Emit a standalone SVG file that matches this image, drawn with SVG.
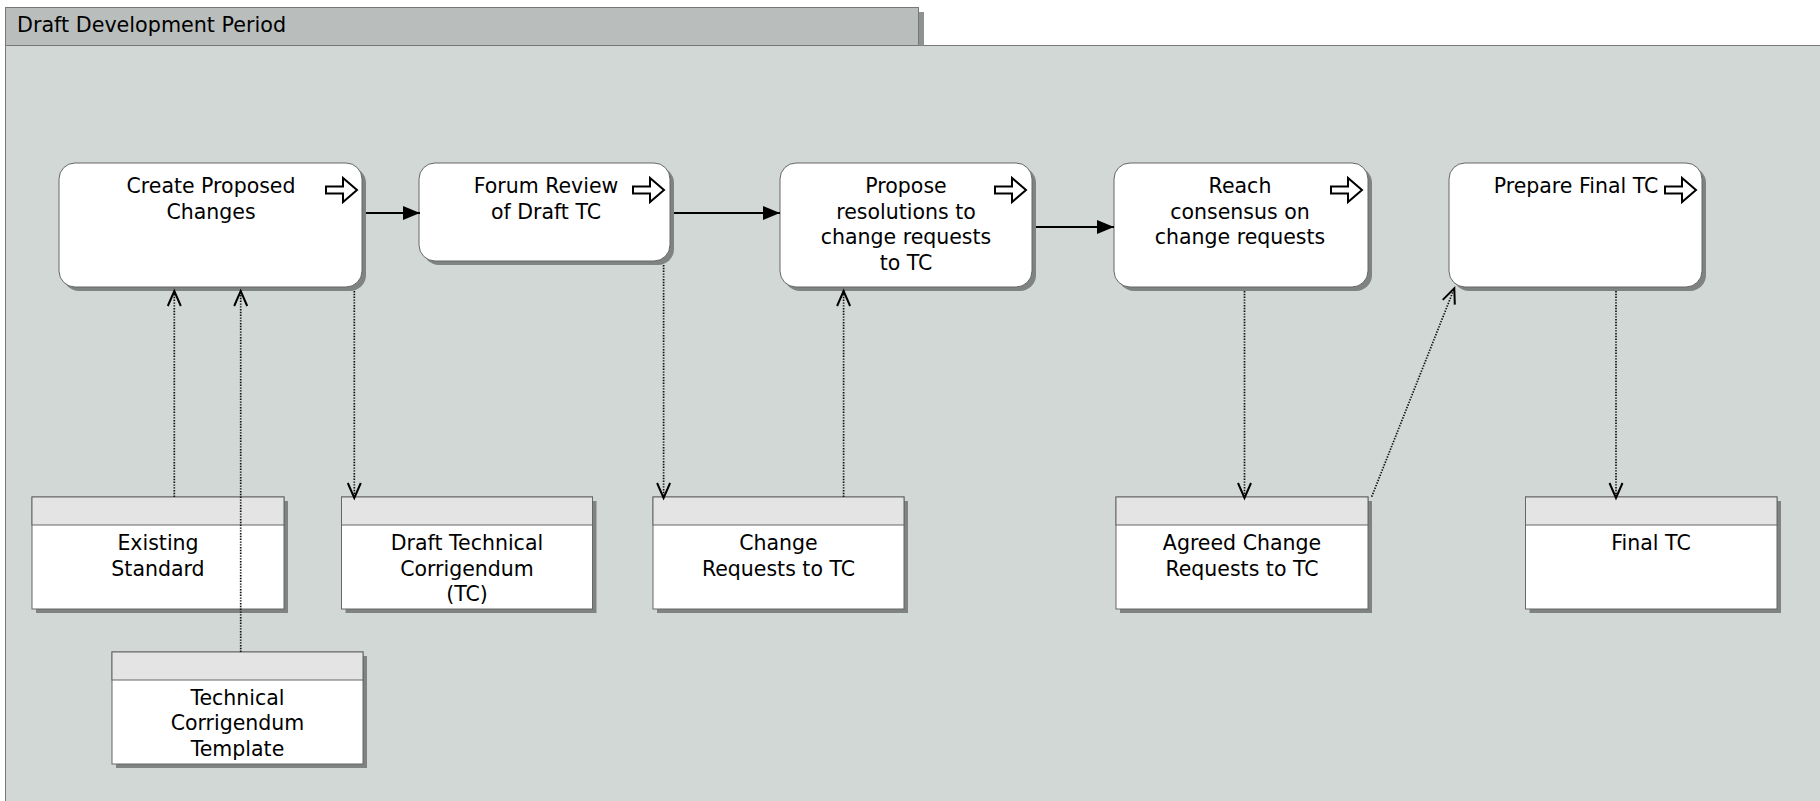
<svg xmlns="http://www.w3.org/2000/svg" xmlns:xlink="http://www.w3.org/1999/xlink" width="1820" height="801" viewBox="0 0 1820 801">
<style>
text{font-family:"DejaVu Sans","Liberation Sans",sans-serif;fill:#000;}
.lbl{font-size:20.5px;text-anchor:middle;}
.title{font-size:20.7px;}
.task{fill:#fff;stroke:#666;stroke-width:1;}
.shadow{fill:#7f8382;}
.body{fill:#fff;stroke:#666;stroke-width:1;}
.hdr{fill:#e4e4e4;stroke:#666;stroke-width:1;}
.flow{stroke:#000;stroke-width:2;fill:none;}
.assoc{stroke:#111;stroke-width:1.7;stroke-dasharray:1.4 1.4;fill:none;}
.icon{fill:#fff;stroke:#000;stroke-width:2;stroke-linejoin:miter;}
</style>
<defs>
<marker id="solid" markerUnits="userSpaceOnUse" markerWidth="18" markerHeight="16" refX="17" refY="7" orient="auto" overflow="visible">
<path d="M0,0 L17,7 L0,14 Z" fill="#000"/>
</marker>
<marker id="open" markerUnits="userSpaceOnUse" markerWidth="18" markerHeight="18" refX="0" refY="0" orient="auto" overflow="visible">
<path d="M-15,-6.5 L0,0 L-15,6.5" fill="none" stroke="#000" stroke-width="2"/>
</marker>
<path id="arrowIcon" class="icon" d="M0,8.5 H17 V0 L31,12 L17,24 V15.5 H0 Z"/>
</defs>

<g id="pool">
<rect x="5.5" y="45.5" width="1830" height="780" fill="#d1d8d6" stroke="#777" stroke-width="1"/>
<rect x="912" y="12" width="12" height="33.5" fill="#8e9291"/>
<rect x="5.5" y="7.5" width="913" height="38" fill="#b9bdbc" stroke="#777" stroke-width="1"/>
<text class="title" x="17" y="31.5">Draft Development Period</text>
</g>

<g id="task-create">
<rect class="shadow" x="63" y="167" width="303" height="124" rx="16"/>
<rect class="task" x="59" y="163" width="303" height="124" rx="16"/>
<use xlink:href="#arrowIcon" href="#arrowIcon" x="326" y="178"/>
<text class="lbl" x="211" y="193">Create Proposed</text>
<text class="lbl" x="211" y="218.5">Changes</text>
</g>

<g id="task-forum">
<rect class="shadow" x="423" y="167" width="251" height="98" rx="16"/>
<rect class="task" x="419" y="163" width="251" height="98" rx="16"/>
<use xlink:href="#arrowIcon" href="#arrowIcon" x="633" y="178"/>
<text class="lbl" x="546" y="193">Forum Review</text>
<text class="lbl" x="546" y="218.5">of Draft TC</text>
</g>

<g id="task-propose">
<rect class="shadow" x="784" y="167" width="252" height="124" rx="16"/>
<rect class="task" x="780" y="163" width="252" height="124" rx="16"/>
<use xlink:href="#arrowIcon" href="#arrowIcon" x="995" y="178"/>
<text class="lbl" x="906" y="193">Propose</text>
<text class="lbl" x="906" y="218.5">resolutions to</text>
<text class="lbl" x="906" y="244">change requests</text>
<text class="lbl" x="906" y="269.5">to TC</text>
</g>

<g id="task-reach">
<rect class="shadow" x="1118" y="167" width="254" height="124" rx="16"/>
<rect class="task" x="1114" y="163" width="254" height="124" rx="16"/>
<use xlink:href="#arrowIcon" href="#arrowIcon" x="1331" y="178"/>
<text class="lbl" x="1240" y="193">Reach</text>
<text class="lbl" x="1240" y="218.5">consensus on</text>
<text class="lbl" x="1240" y="244">change requests</text>
</g>

<g id="task-prepare">
<rect class="shadow" x="1453" y="167" width="253" height="124" rx="16"/>
<rect class="task" x="1449" y="163" width="253" height="124" rx="16"/>
<text class="lbl" x="1576" y="193">Prepare Final TC</text>
<use xlink:href="#arrowIcon" href="#arrowIcon" x="1665" y="178"/>
</g>

<g id="doc-existing">
<rect class="shadow" x="36" y="501" width="252" height="112"/>
<rect class="body" x="32" y="497" width="252" height="112"/>
<rect class="hdr" x="32" y="497" width="252" height="28"/>
<text class="lbl" x="158" y="550">Existing</text>
<text class="lbl" x="158" y="575.5">Standard</text>
</g>

<g id="doc-draft">
<rect class="shadow" x="345.5" y="501" width="251" height="112"/>
<rect class="body" x="341.5" y="497" width="251" height="112"/>
<rect class="hdr" x="341.5" y="497" width="251" height="28"/>
<text class="lbl" x="467" y="550">Draft Technical</text>
<text class="lbl" x="467" y="575.5">Corrigendum</text>
<text class="lbl" x="467" y="601">(TC)</text>
</g>

<g id="doc-change">
<rect class="shadow" x="657" y="501" width="251" height="112"/>
<rect class="body" x="653" y="497" width="251" height="112"/>
<rect class="hdr" x="653" y="497" width="251" height="28"/>
<text class="lbl" x="778.5" y="550">Change</text>
<text class="lbl" x="778.5" y="575.5">Requests to TC</text>
</g>

<g id="doc-agreed">
<rect class="shadow" x="1120" y="501" width="252" height="112"/>
<rect class="body" x="1116" y="497" width="252" height="112"/>
<rect class="hdr" x="1116" y="497" width="252" height="28"/>
<text class="lbl" x="1242" y="550">Agreed Change</text>
<text class="lbl" x="1242" y="575.5">Requests to TC</text>
</g>

<g id="doc-final">
<rect class="shadow" x="1529.5" y="501" width="251.5" height="112"/>
<rect class="body" x="1525.5" y="497" width="251.5" height="112"/>
<rect class="hdr" x="1525.5" y="497" width="251.5" height="28"/>
<text class="lbl" x="1651" y="550">Final TC</text>
</g>

<g id="doc-template">
<rect class="shadow" x="116" y="656" width="251" height="112"/>
<rect class="body" x="112" y="652" width="251" height="112"/>
<rect class="hdr" x="112" y="652" width="251" height="28"/>
<text class="lbl" x="237.5" y="704.5">Technical</text>
<text class="lbl" x="237.5" y="730">Corrigendum</text>
<text class="lbl" x="237.5" y="755.5">Template</text>
</g>

<g id="connectors">
<line class="flow" x1="366" y1="213" x2="420" y2="213" marker-end="url(#solid)"/>
<line class="flow" x1="674" y1="213" x2="780" y2="213" marker-end="url(#solid)"/>
<line class="flow" x1="1036" y1="227" x2="1114" y2="227" marker-end="url(#solid)"/>
<line class="assoc" x1="174.3" y1="497" x2="174.3" y2="291" marker-end="url(#open)"/>
<line class="assoc" x1="240.7" y1="652" x2="240.7" y2="291" marker-end="url(#open)"/>
<line class="assoc" x1="354.3" y1="291" x2="354.3" y2="498" marker-end="url(#open)"/>
<line class="assoc" x1="663.6" y1="265" x2="663.6" y2="498" marker-end="url(#open)"/>
<line class="assoc" x1="843.6" y1="497" x2="843.6" y2="291" marker-end="url(#open)"/>
<line class="assoc" x1="1244.5" y1="291" x2="1244.5" y2="498" marker-end="url(#open)"/>
<line class="assoc" x1="1371.7" y1="496.7" x2="1454.3" y2="288.3" marker-end="url(#open)"/>
<line class="assoc" x1="1616" y1="291" x2="1616" y2="498" marker-end="url(#open)"/>
</g>
</svg>
